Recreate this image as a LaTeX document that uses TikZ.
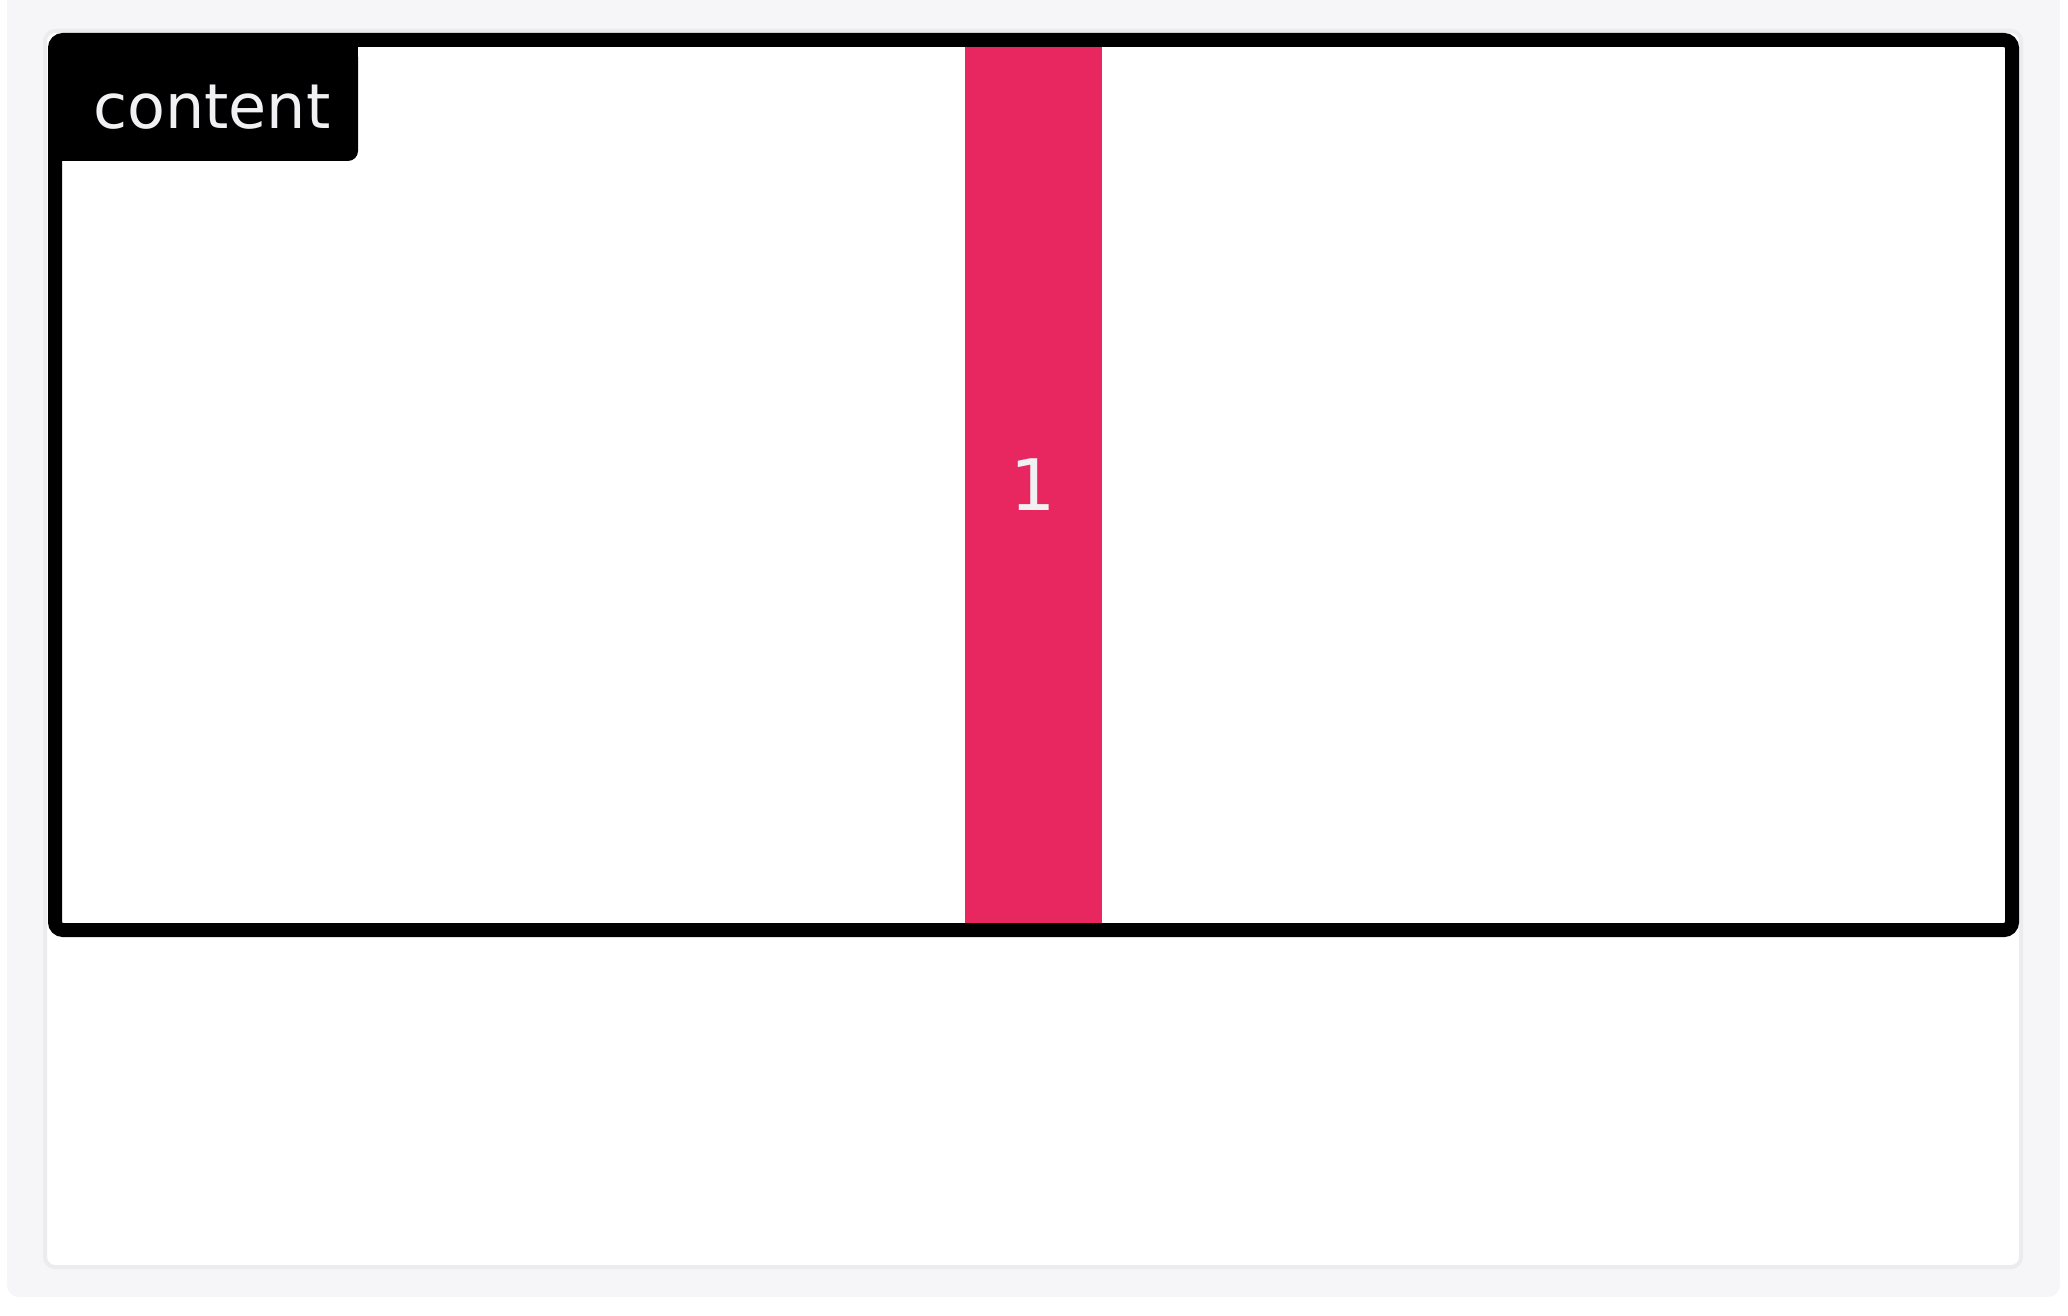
\documentclass[tikz,border=0pt]{standalone}
\usepackage{fontspec}
\setmainfont{DejaVu Sans}
\usetikzlibrary{positioning}
\definecolor{panelgray}{HTML}{F6F6F8}
\definecolor{cardedge}{HTML}{ECECEF}
\definecolor{barpink}{HTML}{E8265F}
\definecolor{labelwhite}{HTML}{F1F1F4}

\begin{document}
\begin{tikzpicture}[x=1pt,y=-1pt,
  frame/.style={draw=black,line width=14pt,rounded corners=8pt},
  barbox/.style={fill=barpink,text=labelwhite,inner sep=0pt,outer sep=0pt,
    minimum width=137pt,minimum height=876pt,font=\fontsize{71}{71}\selectfont},
  tagtext/.style={text=labelwhite,inner sep=0pt,font=\fontsize{62}{62}\selectfont}]
\useasboundingbox (0,0) rectangle (2068,1316);
% page and card
\fill[panelgray,rounded corners=12pt] (7,-20) rectangle (2060,1297);
\draw[fill=white,draw=cardedge,line width=4pt,rounded corners=10pt] (45,31) rectangle (2021,1267);
% the item
\node[barbox] (bar) at (1033.5,485) {1};
\draw[frame] (55,40) rectangle (2012,930);
% label tab, only the lower right corner is round
\fill[black,rounded corners=10pt] (62,47) rectangle (358,161);
\fill[black] (62,47) rectangle (340,161);
\fill[black] (62,47) rectangle (358,140);
\node[tagtext,anchor=base west] (tag) at (93,129) {content};
\end{tikzpicture}
\end{document}
